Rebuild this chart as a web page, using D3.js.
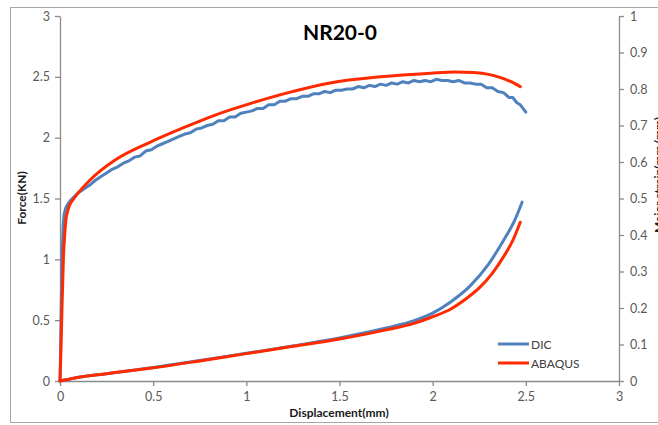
<!DOCTYPE html>
<html>
<head>
<meta charset="utf-8">
<script src="https://cdn.jsdelivr.net/npm/d3@7/dist/d3.min.js"></script>
<style>
  html, body { margin: 0; padding: 0; background: #fff; }
  svg { display: block; font-family: Lato, "Liberation Sans", sans-serif; }
</style>
</head>
<body>
<svg id="chart" width="658" height="425"></svg>
<script>
// Force vs displacement (left axis, kN)
const forceDIC = [
  [0,0],[0.003,0.25],[0.006,0.55],[0.009,0.85],[0.013,1.1],[0.017,1.28],[0.022,1.37],[0.03,1.42],
  [0.045,1.46],[0.06,1.49],[0.08,1.52],[0.10,1.55],[0.13,1.58],[0.16,1.61],[0.19,1.65],[0.22,1.68],
  [0.25,1.71],[0.28,1.74],[0.31,1.76],[0.34,1.79],[0.37,1.81],[0.40,1.84],[0.43,1.85],[0.46,1.89],
  [0.49,1.90],[0.52,1.93],[0.55,1.95],[0.58,1.97],[0.61,1.99],[0.64,2.01],[0.67,2.03],[0.70,2.04],
  [0.73,2.07],[0.76,2.08],[0.79,2.10],[0.82,2.11],[0.85,2.14],[0.88,2.14],[0.91,2.17],[0.94,2.17],
  [0.97,2.20],[1.00,2.21],[1.03,2.22],[1.06,2.24],[1.09,2.24],[1.12,2.27],[1.15,2.27],[1.18,2.30],
  [1.21,2.30],[1.24,2.32],[1.27,2.32],[1.30,2.34],[1.33,2.34],[1.36,2.36],[1.39,2.36],[1.42,2.38],
  [1.45,2.37],[1.48,2.39],[1.51,2.39],[1.54,2.40],[1.57,2.40],[1.60,2.42],[1.63,2.41],[1.66,2.43],
  [1.69,2.42],[1.72,2.44],[1.75,2.43],[1.78,2.45],[1.81,2.44],[1.84,2.46],[1.87,2.45],[1.90,2.47],
  [1.93,2.46],[1.96,2.47],[1.99,2.46],[2.02,2.48],[2.05,2.47],[2.08,2.47],[2.11,2.46],[2.14,2.47],
  [2.17,2.45],[2.20,2.45],[2.23,2.44],[2.26,2.44],[2.29,2.41],[2.32,2.41],[2.35,2.38],[2.38,2.37],
  [2.41,2.33],[2.43,2.33],[2.45,2.29],[2.47,2.27],[2.49,2.23],[2.50,2.21]
];
const forceABAQUS = [
  [0,0],[0.005,0.25],[0.009,0.5],[0.018,1.0],[0.026,1.22],[0.032,1.33],[0.04,1.39],[0.05,1.44],
  [0.07,1.49],[0.10,1.55],[0.16,1.65],[0.30,1.82],[0.48,1.96],[0.66,2.08],[0.84,2.19],[1.02,2.28],
  [1.20,2.36],[1.45,2.45],[1.72,2.50],[1.99,2.53],[2.12,2.54],[2.22,2.535],[2.30,2.52],[2.36,2.495],
  [2.42,2.46],[2.47,2.42]
];

// Major strain vs displacement (right axis, mm/mm)
const strainDIC = [
  [0,0],[0.05,0.005],[0.10,0.01],[0.25,0.02],[0.50,0.037],[0.75,0.056],[1.00,0.076],[1.25,0.096],
  [1.50,0.118],[1.75,0.145],[1.90,0.165],[2.00,0.186],[2.10,0.218],[2.20,0.26],[2.30,0.32],
  [2.38,0.385],[2.44,0.44],[2.48,0.49]
];
const strainABAQUS = [
  [0,0],[0.05,0.005],[0.10,0.01],[0.25,0.02],[0.50,0.036],[0.75,0.055],[1.00,0.075],[1.25,0.095],
  [1.50,0.115],[1.75,0.14],[1.90,0.158],[2.00,0.176],[2.10,0.198],[2.17,0.222],[2.25,0.255],
  [2.32,0.295],[2.38,0.34],[2.43,0.385],[2.47,0.435]
];

const xTicks = [0, 0.5, 1, 1.5, 2, 2.5, 3];
const forceTicks = [0, 0.5, 1, 1.5, 2, 2.5, 3];
const strainTicks = [0, 0.1, 0.2, 0.3, 0.4, 0.5, 0.6, 0.7, 0.8, 0.9, 1];

const seriesNames = ["DIC", "ABAQUS"];
const colors = { DIC: "#4f81bd", ABAQUS: "#ff2a00" };

const svg = d3.select("#chart");
const axisColor = "#8c8c8c";
const labelColor = "#595959";

// Outer chart frame
svg.append("rect")
  .attr("x", 10.5).attr("y", 7.5)
  .attr("width", 660).attr("height", 415)
  .attr("fill", "none").attr("stroke", "#a6a6a6").attr("stroke-width", 1);

const plot = { left: 60, right: 619, top: 16, bottom: 381 };

const x = d3.scaleLinear().domain([0, 3]).range([plot.left, plot.right]);
const yF = d3.scaleLinear().domain([0, 3]).range([plot.bottom, plot.top]);
const yS = d3.scaleLinear().domain([0, 1]).range([plot.bottom, plot.top]);

function styleAxis(g) {
  g.select(".domain").attr("stroke", axisColor).attr("stroke-width", 1.3);
  g.selectAll(".tick line").attr("stroke", axisColor).attr("stroke-width", 1.3);
  g.selectAll(".tick text").attr("fill", labelColor).style("font-size", "12.5px")
    .style("font-family", "Lato, 'Liberation Sans', sans-serif");
}

const fmt = d => String(d);

svg.append("g")
  .attr("transform", `translate(0,${plot.bottom})`)
  .call(d3.axisBottom(x).tickValues(xTicks).tickFormat(fmt).tickSize(5).tickSizeOuter(0).tickPadding(6))
  .call(styleAxis);

svg.append("g")
  .attr("transform", `translate(${plot.left},0)`)
  .call(d3.axisLeft(yF).tickValues(forceTicks).tickFormat(fmt).tickSize(5).tickSizeOuter(0).tickPadding(5))
  .call(styleAxis);

svg.append("g")
  .attr("transform", `translate(${plot.right},0)`)
  .call(d3.axisRight(yS).tickValues(strainTicks).tickFormat(fmt).tickSize(5).tickSizeOuter(0).tickPadding(6))
  .call(styleAxis);

// Curves
const lineF = d3.line().x(d => x(d[0])).y(d => yF(d[1]));
const lineFsmooth = d3.line().x(d => x(d[0])).y(d => yF(d[1])).curve(d3.curveMonotoneX);
const lineS = d3.line().x(d => x(d[0])).y(d => yS(d[1])).curve(d3.curveMonotoneX);

const curves = [
  { data: strainDIC, gen: lineS, color: colors.DIC },
  { data: forceDIC, gen: lineF, color: colors.DIC },
  { data: strainABAQUS, gen: lineS, color: colors.ABAQUS },
  { data: forceABAQUS, gen: lineFsmooth, color: colors.ABAQUS }
];

svg.append("g").selectAll("path")
  .data(curves)
  .join("path")
  .attr("d", c => c.gen(c.data))
  .attr("fill", "none")
  .attr("stroke", c => c.color)
  .attr("stroke-width", 3)
  .attr("stroke-linejoin", "round")
  .attr("stroke-linecap", "round");

// Title
svg.append("text")
  .attr("x", 340).attr("y", 40)
  .attr("text-anchor", "middle")
  .style("font-size", "21px").style("font-weight", "bold")
  .attr("fill", "#000")
  .text("NR20-0");

// Axis titles
svg.append("text")
  .attr("x", 339).attr("y", 417)
  .attr("text-anchor", "middle")
  .style("font-size", "12px").style("font-weight", "bold")
  .attr("fill", "#1a1a1a")
  .text("Displacement(mm)");

svg.append("text")
  .attr("transform", "translate(26,198) rotate(-90)")
  .attr("text-anchor", "middle")
  .style("font-size", "12px").style("font-weight", "bold")
  .attr("fill", "#1a1a1a")
  .text("Force(KN)");

svg.append("text")
  .attr("transform", "translate(663,175) rotate(-90)")
  .attr("text-anchor", "middle")
  .style("font-size", "12px").style("font-weight", "bold")
  .attr("fill", "#1a1a1a")
  .text("Major strain(mm/mm)");

// Legend
const legend = svg.append("g");
seriesNames.forEach((name, i) => {
  const ly = 344 + i * 19;
  legend.append("line")
    .attr("x1", 498).attr("x2", 529).attr("y1", ly).attr("y2", ly)
    .attr("stroke", colors[name]).attr("stroke-width", 3);
  legend.append("text")
    .attr("x", 531).attr("y", ly + 4.5)
    .style("font-size", "12px")
    .attr("fill", "#404040")
    .text(name);
});
</script>
</body>
</html>
